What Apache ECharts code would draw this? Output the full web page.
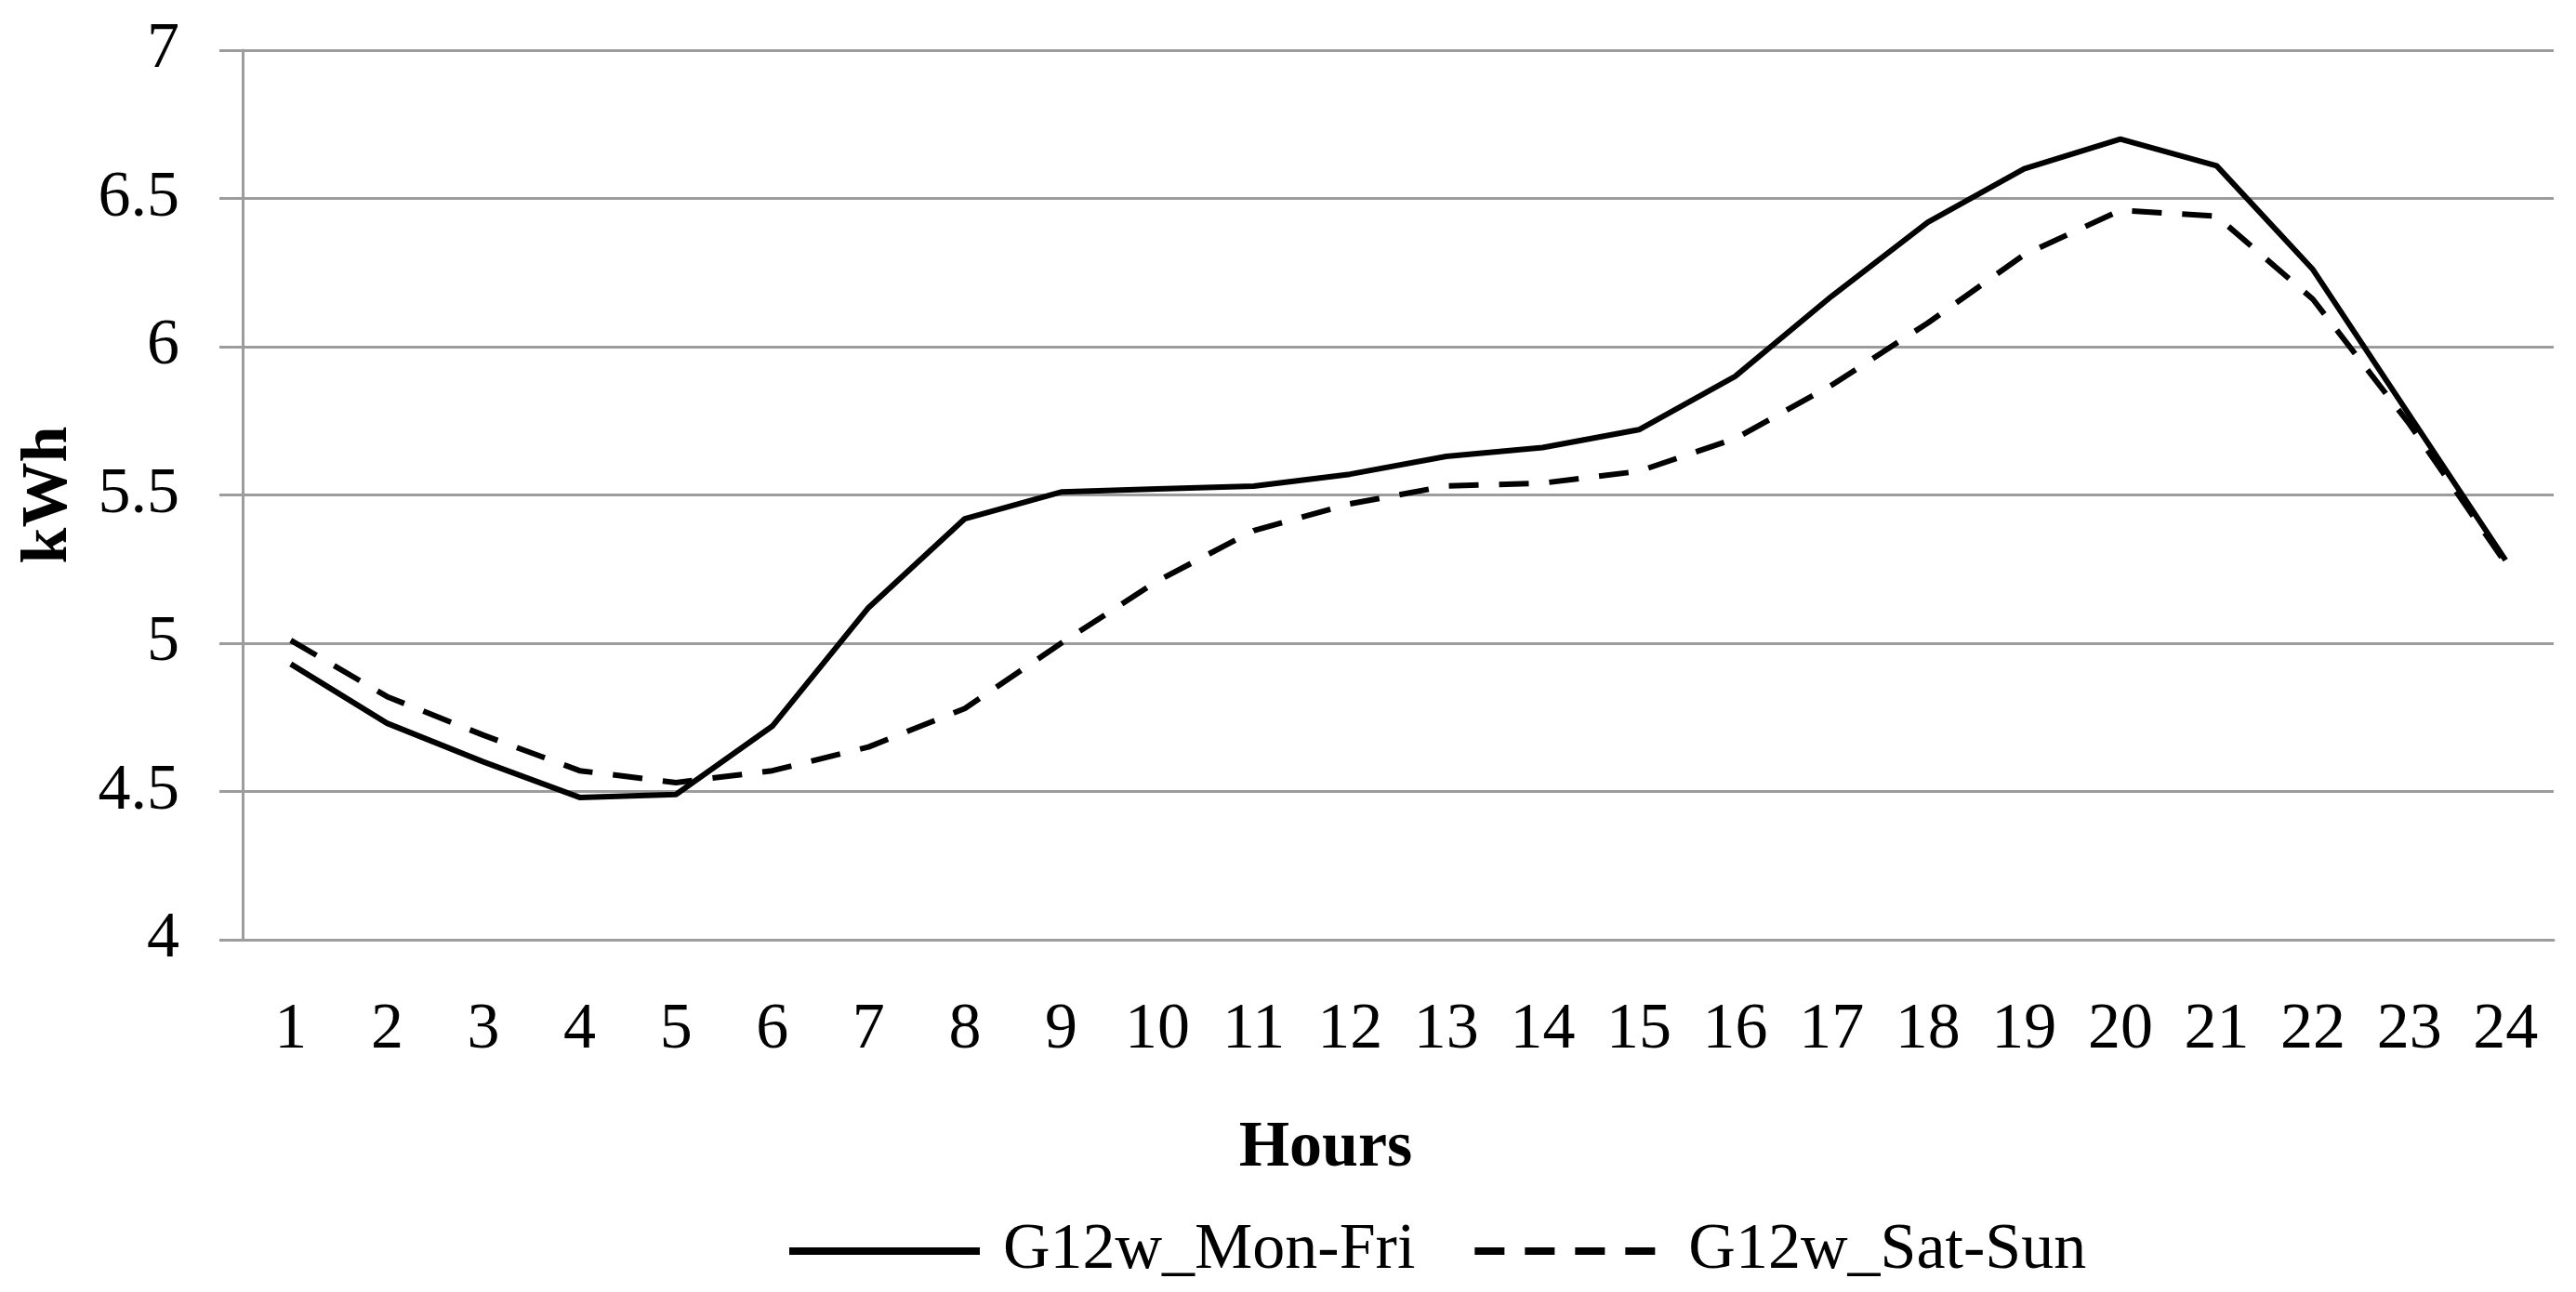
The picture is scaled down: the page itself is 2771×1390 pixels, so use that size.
<!DOCTYPE html>
<html>
<head>
<meta charset="utf-8">
<script src="https://cdn.jsdelivr.net/npm/echarts@6/dist/echarts.min.js"></script>
<style>
html,body{margin:0;padding:0;background:#fff;}
#chart{width:2771px;height:1390px;}
</style>
</head>
<body>
<div id="chart"></div>
<script>
const hours = ['1','2','3','4','5','6','7','8','9','10','11','12','13','14','15','16','17','18','19','20','21','22','23','24'];
const monFri = [4.93,4.73,4.60,4.48,4.49,4.72,5.12,5.42,5.51,5.52,5.53,5.57,5.63,5.66,5.72,5.90,6.17,6.42,6.60,6.70,6.61,6.26,5.77,5.28];
const satSun = [5.01,4.82,4.69,4.57,4.53,4.57,4.65,4.78,5.00,5.21,5.38,5.47,5.53,5.54,5.58,5.69,5.87,6.08,6.31,6.46,6.44,6.16,5.74,5.27];
const seriesNames = ['G12w_Mon-Fri','G12w_Sat-Sun'];
const yTicks = {min:4, max:7, interval:0.5};

const FONT = '"Liberation Serif", "DejaVu Serif", serif';
const GRID_COLOR = '#9c9c9c';

const chart = echarts.init(document.getElementById('chart'), null, {renderer:'canvas'});
chart.setOption({
  backgroundColor:'#ffffff',
  animation:false,
  textStyle:{fontFamily:FONT, color:'#000'},
  grid:{left:261, right:24, top:54, bottom:379, containLabel:false},
  legend:{
    left:840, top:1306,
    itemWidth:205, itemHeight:30, itemGap:60,
    itemStyle:{opacity:0, borderWidth:0},
    lineStyle:{width:8},
    textStyle:{fontFamily:FONT, fontSize:70, color:'#000', padding:[0,0,0,20]},
    data:seriesNames
  },
  xAxis:{
    type:'category',
    data:hours,
    boundaryGap:true,
    name:'Hours',
    nameLocation:'middle',
    nameGap:190,
    nameTextStyle:{fontFamily:FONT, fontSize:70, fontWeight:'bold', color:'#000', padding:[0,156,0,0]},
    axisLine:{show:true, lineStyle:{color:GRID_COLOR, width:3}},
    axisTick:{show:false},
    axisLabel:{fontFamily:FONT, fontSize:70, color:'#000', margin:63, interval:0},
    splitLine:{show:false}
  },
  yAxis:{
    type:'value',
    min:yTicks.min, max:yTicks.max, interval:yTicks.interval,
    name:'kWh',
    nameLocation:'middle',
    nameGap:173,
    nameRotate:90,
    nameTextStyle:{fontFamily:FONT, fontSize:70, fontWeight:'bold', color:'#000'},
    axisLine:{show:true, lineStyle:{color:GRID_COLOR, width:3}},
    axisTick:{show:true, length:25, lineStyle:{color:GRID_COLOR, width:3}},
    axisLabel:{fontFamily:FONT, fontSize:70, color:'#000', margin:68},
    splitLine:{show:true, lineStyle:{color:GRID_COLOR, width:3}}
  },
  series:[
    {
      name:seriesNames[0], type:'line', data:monFri,
      symbol:'none', smooth:false,
      lineStyle:{color:'#000', width:6, type:'solid'},
      itemStyle:{color:'#000'}
    },
    {
      name:seriesNames[1], type:'line', data:satSun,
      symbol:'none', smooth:false,
      lineStyle:{color:'#000', width:6, type:[32,22]},
      itemStyle:{color:'#000'}
    }
  ]
});
</script>
</body>
</html>
